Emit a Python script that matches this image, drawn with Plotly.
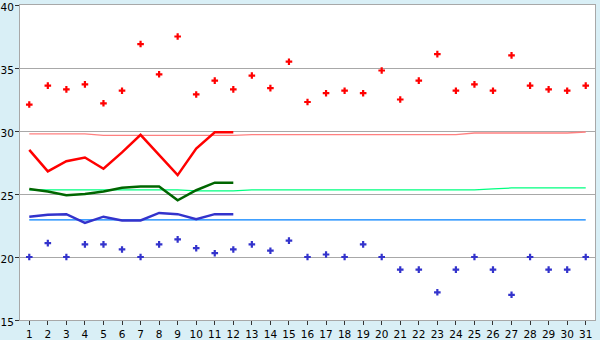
import plotly.graph_objects as go

days = list(range(1, 32))
tick_labels = [str(d) for d in days]

max_temp = [32.1, 33.6, 33.3, 33.7, 32.2, 33.2, 36.9, 34.5, 37.5, 32.9,
            34.0, 33.3, 34.4, 33.4, 35.5, 32.3, 33.0, 33.2, 33.0, 34.8,
            32.5, 34.0, 36.1, 33.2, 33.7, 33.2, 36.0, 33.6, 33.3, 33.2, 33.6]
min_temp = [20.0, 21.1, 20.0, 21.0, 21.0, 20.6, 20.0, 21.0, 21.4, 20.7,
            20.3, 20.6, 21.0, 20.5, 21.3, 20.0, 20.2, 20.0, 21.0, 20.0,
            19.0, 19.0, 17.2, 19.0, 20.0, 19.0, 17.0, 20.0, 19.0, 19.0, 20.0]

line_days = list(range(1, 13))
max_line = [28.5, 26.8, 27.6, 27.9, 27.0, 28.3, 29.7, 28.1, 26.5, 28.6, 29.9, 29.9]
mean_line = [25.4, 25.2, 24.9, 25.0, 25.2, 25.5, 25.6, 25.6, 24.5, 25.3, 25.9, 25.9]
min_line = [23.2, 23.35, 23.4, 22.7, 23.2, 22.9, 22.9, 23.5, 23.4, 23.0, 23.4, 23.4]

max_normal = [29.77] * 4 + [29.65] * 8 + [29.71] * 12 + [29.84] * 6 + [29.92]
mean_normal = [25.32] * 9 + [25.25] * 3 + [25.32] * 13 + [25.4] + [25.48] * 5
min_normal = [22.94] * 31

y_ticks = [15, 20, 25, 30, 35, 40]

fig = go.Figure()

fig.add_trace(go.Scatter(x=days, y=max_normal, mode="lines",
                         line=dict(color="#ff8080", width=1.3)))
fig.add_trace(go.Scatter(x=days, y=mean_normal, mode="lines",
                         line=dict(color="#00ff80", width=1.3)))
fig.add_trace(go.Scatter(x=days, y=min_normal, mode="lines",
                         line=dict(color="#0080ff", width=1.3)))

fig.add_trace(go.Scatter(x=line_days, y=max_line, mode="lines",
                         line=dict(color="#ff0000", width=2.5)))
fig.add_trace(go.Scatter(x=line_days, y=mean_line, mode="lines",
                         line=dict(color="#006600", width=2.5)))
fig.add_trace(go.Scatter(x=line_days, y=min_line, mode="lines",
                         line=dict(color="#3333cc", width=2.5)))

fig.add_trace(go.Scatter(x=days, y=max_temp, mode="markers",
                         marker=dict(symbol="cross", size=5.5, color="#ff0000",
                                     line=dict(width=0))))
fig.add_trace(go.Scatter(x=days, y=min_temp, mode="markers",
                         marker=dict(symbol="cross", size=5.5, color="#3333cc",
                                     line=dict(width=0))))

fig.update_layout(
    width=600, height=340,
    margin=dict(l=20, r=5, t=5, b=20),
    paper_bgcolor="#d9eff6",
    plot_bgcolor="#ffffff",
    showlegend=False,
    hovermode=False,
    font=dict(family="DejaVu Sans, Verdana, sans-serif", size=11, color="#000000"),
    xaxis=dict(
        range=[0.5, 31.5], tickmode="array", tickvals=days, ticktext=tick_labels,
        automargin=False,
        showgrid=False, zeroline=False, showline=True, linecolor="#a8a8a8",
        linewidth=1, mirror=True, ticks="outside", ticklen=4, tickcolor="#333333",
        ticklabelstandoff=0,
        tickfont=dict(size=10.5),
    ),
    yaxis=dict(
        range=[15, 40], tickmode="array", tickvals=y_ticks,
        ticktext=[str(v) for v in y_ticks], ticklabeloverflow="allow",
        automargin=False, ticklabelshift=2, ticklabelstandoff=-1,
        showgrid=True, gridcolor="#a8a8a8", gridwidth=1, zeroline=False,
        showline=True, linecolor="#a8a8a8", linewidth=1, mirror=True,
        ticks="outside", ticklen=4, tickcolor="#333333", tickfont=dict(size=10.5),
    ),
)

fig.write_html("out.html", config={"displayModeBar": False})
